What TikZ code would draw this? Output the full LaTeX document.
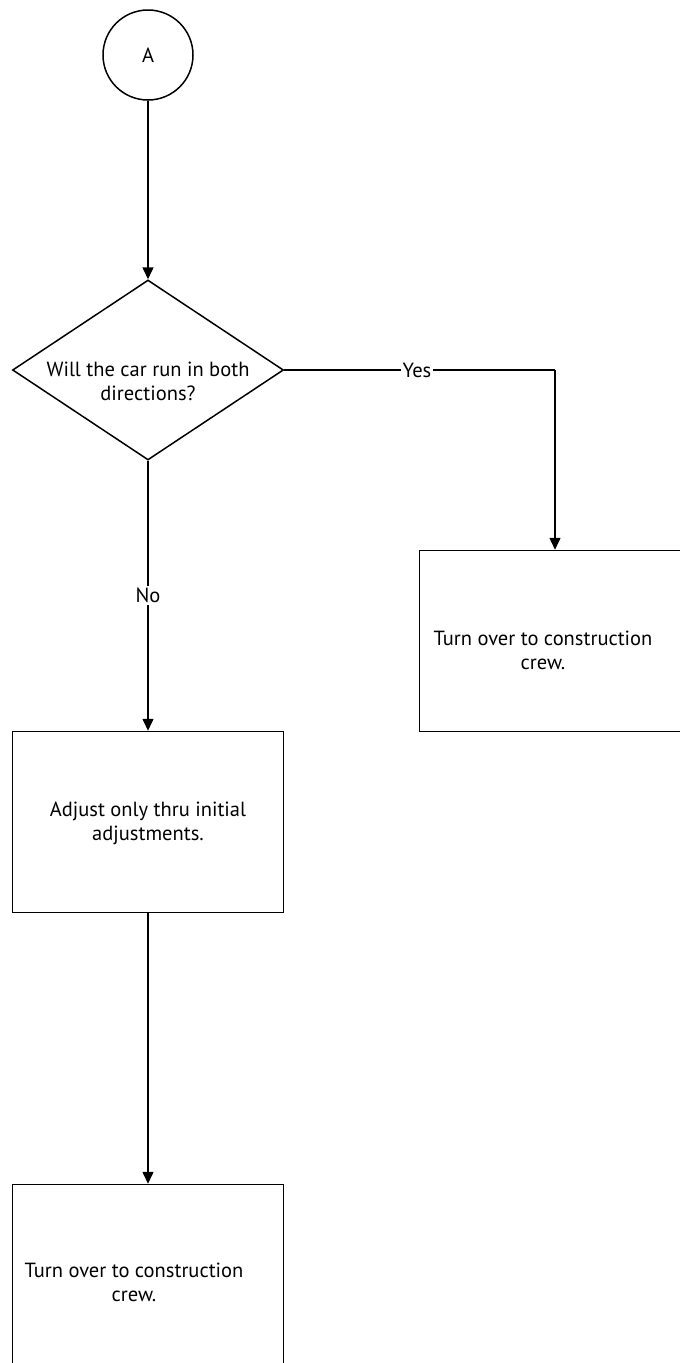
\documentclass[tikz,border=0pt]{standalone}
\usepackage{fontspec}
\setmainfont{PT Sans}
\usetikzlibrary{shapes.geometric,arrows.meta}
\begin{document}
\begin{tikzpicture}[x=1pt,y=-1pt,
  every node/.style={font=\fontsize{20.5}{24}\selectfont},
  conn/.style={line width=1.5pt,-{Triangle[length=12pt,width=11pt]}},
  plain/.style={line width=1.5pt},
  boxshape/.style={draw,line width=1.5pt,minimum width=271pt,minimum height=181pt,inner sep=0pt},
  txt/.style={align=center,inner sep=0pt},
  lbl/.style={fill=white,inner sep=2pt}]
\useasboundingbox (0,0) rectangle (680,1363);
\clip (0,0) rectangle (680,1363);
\fill[white] (0,0) rectangle (680,1363);
\node[draw,circle,line width=1.5pt,minimum size=90pt,inner sep=0pt] (a) at (148,55) {A};
\node[draw,diamond,line width=1.5pt,minimum width=271pt,minimum height=180pt,inner sep=0pt] (d) at (148,370) {};
\node[txt] (dt) at (148,381) {Will the car run in both\\directions?};
\node[boxshape] (r) at (555,641) {};
\node[txt] (rt) at (543,650) {Turn over to construction\\crew.};
\node[boxshape] (b2) at (148,822) {};
\node[txt] (b2t) at (148,823) {Adjust only thru initial\\adjustments.};
\node[boxshape] (b3) at (148,1275) {};
\node[txt] (b3t) at (134,1282) {Turn over to construction\\crew.};
\coordinate (yc) at (r.north |- d.east);
\draw[plain] (d.east) -- (yc) node[lbl,pos=0.49] (yes) {Yes};
\draw[conn] (a.south) -- (d.north);
\draw[conn] (yc) -- (r.north);
\draw[conn] (d.south) -- (b2.north) node[lbl,midway] (no) {No};
\draw[conn] (b2.south) -- (b3.north);
\end{tikzpicture}
\end{document}
